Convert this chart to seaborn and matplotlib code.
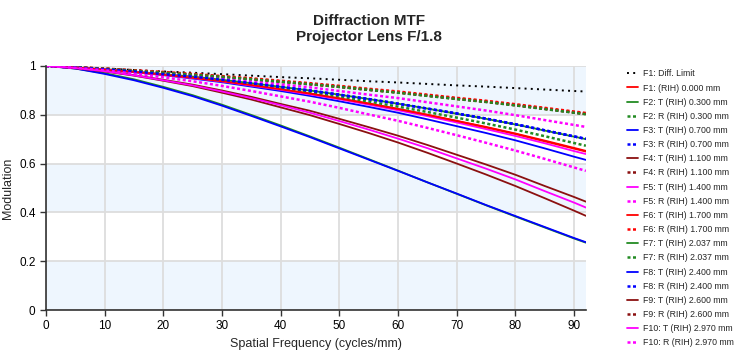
import numpy as np
import pandas as pd
import matplotlib
matplotlib.use("Agg")
import matplotlib.pyplot as plt
import seaborn as sns

# datos (cada 5 ciclos/mm)
freq = [0, 5, 10, 15, 20, 25, 30, 35, 40, 45, 50, 55, 60, 65, 70, 75, 80, 85, 90, 92]

diff_limit = [1, .994, .989, .983, .977, .972, .966, .960, .954, .949, .943, .937, .932, .926, .920, .915, .909, .903, .897, .895]
f1 = [1, .993, .985, .975, .964, .952, .937, .921, .904, .887, .867, .846, .824, .800, .775, .750, .723, .694, .664, .652]
f2_t = [1, .993, .986, .977, .966, .956, .943, .929, .914, .899, .882, .864, .845, .825, .804, .783, .760, .735, .710, .700]
f2_r = [1, .993, .986, .976, .965, .953, .940, .925, .908, .892, .873, .854, .833, .811, .788, .764, .739, .712, .684, .673]
f3_t = [1, .993, .985, .974, .962, .948, .933, .915, .897, .877, .855, .832, .808, .781, .753, .725, .695, .662, .628, .615]
f3_r = [1, .993, .986, .977, .966, .956, .943, .929, .914, .899, .882, .864, .845, .825, .805, .784, .761, .736, .711, .701]
f4_t = [1, .991, .979, .962, .943, .923, .899, .873, .844, .816, .783, .749, .714, .676, .636, .596, .554, .508, .463, .444]
f4_r = [1, .994, .988, .980, .972, .964, .955, .945, .935, .925, .914, .902, .891, .878, .865, .853, .839, .824, .809, .803]
f5_t = [1, .993, .985, .975, .963, .950, .936, .919, .902, .883, .863, .841, .818, .794, .768, .741, .713, .683, .651, .639]
f5_r = [1, .993, .987, .978, .969, .960, .949, .937, .924, .912, .897, .882, .868, .851, .834, .817, .798, .778, .758, .750]
f6_t = [1, .993, .985, .975, .964, .951, .937, .921, .904, .886, .866, .845, .823, .799, .774, .748, .721, .691, .661, .649]
f6_r = [1, .994, .989, .982, .975, .967, .958, .949, .939, .929, .918, .906, .895, .882, .869, .857, .843, .828, .813, .807]
f7_t = [1, .989, .970, .945, .914, .880, .841, .799, .756, .711, .665, .618, .571, .523, .476, .429, .383, .338, .293, .276]
f7_r = [1, .994, .988, .980, .972, .964, .955, .945, .935, .925, .914, .902, .890, .877, .864, .852, .838, .823, .808, .802]
f8_t = [1, .989, .967, .941, .910, .876, .837, .795, .752, .708, .662, .616, .570, .523, .477, .430, .385, .340, .295, .278]
f8_r = [1, .993, .986, .977, .966, .956, .943, .929, .914, .899, .882, .864, .845, .825, .805, .784, .761, .736, .711, .701]
f9_t = [1, .990, .977, .960, .939, .917, .890, .862, .830, .798, .762, .725, .686, .644, .600, .555, .508, .458, .407, .386]
f9_r = [1, .994, .988, .980, .972, .964, .955, .945, .935, .925, .914, .902, .891, .878, .865, .853, .839, .824, .809, .803]
f10_t = [1, .991, .978, .961, .941, .920, .895, .868, .839, .808, .774, .739, .702, .663, .621, .579, .535, .487, .440, .420]
f10_r = [1, .992, .982, .968, .953, .937, .918, .897, .875, .853, .828, .801, .775, .746, .716, .685, .653, .619, .584, .570]

#%%
rojo = "#ff0000"
verde = "#228b22"
azul = "#0000ff"
cafe = "#8b1010"
magenta = "#ff00ff"

punteado = (0, (1.2, 1.0))

# (etiqueta, datos, color, estilo)
series = [
    ("F1: Diff. Limit", diff_limit, "black", (0, (1, 2.2))),
    ("F1: (RIH) 0.000 mm", f1, rojo, "-"),
    ("F2: T (RIH) 0.300 mm", f2_t, verde, "-"),
    ("F2: R (RIH) 0.300 mm", f2_r, verde, punteado),
    ("F3: T (RIH) 0.700 mm", f3_t, azul, "-"),
    ("F3: R (RIH) 0.700 mm", f3_r, azul, punteado),
    ("F4: T (RIH) 1.100 mm", f4_t, cafe, "-"),
    ("F4: R (RIH) 1.100 mm", f4_r, cafe, punteado),
    ("F5: T (RIH) 1.400 mm", f5_t, magenta, "-"),
    ("F5: R (RIH) 1.400 mm", f5_r, magenta, punteado),
    ("F6: T (RIH) 1.700 mm", f6_t, rojo, "-"),
    ("F6: R (RIH) 1.700 mm", f6_r, rojo, punteado),
    ("F7: T (RIH) 2.037 mm", f7_t, verde, "-"),
    ("F7: R (RIH) 2.037 mm", f7_r, verde, punteado),
    ("F8: T (RIH) 2.400 mm", f8_t, azul, "-"),
    ("F8: R (RIH) 2.400 mm", f8_r, azul, punteado),
    ("F9: T (RIH) 2.600 mm", f9_t, cafe, "-"),
    ("F9: R (RIH) 2.600 mm", f9_r, cafe, punteado),
    ("F10: T (RIH) 2.970 mm", f10_t, magenta, "-"),
    ("F10: R (RIH) 2.970 mm", f10_r, magenta, punteado),
]

#%%
sns.set_style("white")
plt.rcParams['font.family'] = ['Liberation Sans', 'DejaVu Sans']

fig = plt.figure(figsize=(7.36, 3.56), dpi=100)
ax = fig.add_axes([0.0625, 0.129, 0.7335, 0.686])

# franjas de fondo
for y0 in [0.0, 0.4, 0.8]:
    ax.axhspan(y0, y0 + 0.2, color="#eef6fe", zorder=0, lw=0)

for etiqueta, datos, color, estilo in series:
    z = 2
    if color == "black":
        lw = 1.4
    elif estilo == "-":
        lw = 1.3
    else:
        lw = 1.8
        if color == cafe:
            z = 1.8  # quedan debajo de las rojas/verdes punteadas
    sns.lineplot(x=freq, y=datos, ax=ax, color=color, linestyle=estilo,
                 linewidth=lw, label=etiqueta, legend=False, zorder=z)

ax.set_xlim(0, 92)
ax.set_ylim(0, 1)
ax.set_xticks(range(0, 100, 10))
ax.set_yticks([0, 0.2, 0.4, 0.6, 0.8, 1.0])
ax.set_yticklabels(["0", "0.2", "0.4", "0.6", "0.8", "1"])
ax.grid(True, color="#dddddd", linewidth=1.3, zorder=1)
ax.set_axisbelow(True)
for lado in ["top", "right"]:
    ax.spines[lado].set_visible(False)
for lado in ["left", "bottom"]:
    ax.spines[lado].set_color("#333333")
    ax.spines[lado].set_linewidth(1.2)
ax.tick_params(axis="both", direction="out", length=4, width=1, colors="#333333",
               labelsize=8.5, labelcolor="black", left=True, bottom=True)

ax.set_xlabel("Spatial Frequency (cycles/mm)", fontsize=9)
ax.set_ylabel("Modulation", fontsize=9)

fig.suptitle("Diffraction MTF\nProjector Lens F/1.8", fontsize=11, weight="bold",
             x=0.501, y=0.962, linespacing=1.2)

handles, labels = ax.get_legend_handles_labels()
fig.legend(handles, labels, loc="upper left", bbox_to_anchor=(0.847, 0.815),
           frameon=False, fontsize=6.3, handlelength=1.3, handletextpad=0.5,
           labelspacing=0.59, borderaxespad=0)

fig.savefig("out.png", dpi=100)
